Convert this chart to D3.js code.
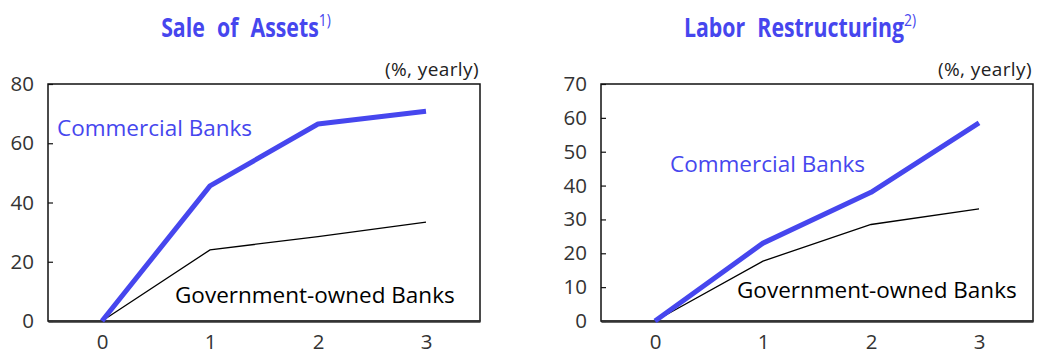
<!DOCTYPE html>
<html>
<head>
<meta charset="utf-8">
<script src="https://cdn.jsdelivr.net/npm/d3@7"></script>
<style>
  html, body { margin: 0; padding: 0; background: #fff; }
  svg { display: block; }
  text { font-family: "Open Sans", "Noto Sans", sans-serif; }
</style>
</head>
<body>
<svg id="chart" width="1037" height="354"></svg>
<script>
// Years after restructuring began
const years = [0, 1, 2, 3];

// Sale of assets (%, yearly)
const assetsCommercial = [0, 45.6, 66.5, 70.8];
const assetsGovernment = [0, 24.0, 28.5, 33.4];

// Labor restructuring (%, yearly)
const laborCommercial = [0, 23.0, 38.0, 58.5];
const laborGovernment = [0, 17.7, 28.5, 33.1];

const assetsTicks = [0, 20, 40, 60, 80];
const laborTicks = [0, 10, 20, 30, 40, 50, 60, 70];

const BLUE = "#4646ee";
const BODY_FONT = "\"Open Sans\", \"Noto Sans\", sans-serif";
const svg = d3.select("#chart");

function panel(opts) {
  const { left, top, width, height, title, note, yMax, ticks, commercial, government,
          comLabel, govLabel } = opts;
  const g = svg.append("g").attr("transform", `translate(${left},${top})`);

  const x = d3.scalePoint().domain(years).range([0, width]).padding(0.5);
  const y = d3.scaleLinear().domain([0, yMax]).range([height, 0]);

  // Title (condensed bold) with superscript note marker
  const tg = g.append("g")
    .attr("transform", `translate(${width / 2 + opts.titleDx},-47) scale(0.82,1)`);
  const t = tg.append("text")
    .attr("text-anchor", "middle")
    .attr("fill", BLUE)
    .attr("font-family", "\"Noto Sans CJK KR\", sans-serif")
    .attr("font-size", 26)
    .attr("font-weight", "bold")
    .attr("word-spacing", 8)
    .text(title);
  t.append("tspan")
    .attr("dy", -11)
    .attr("font-size", 17)
    .attr("font-weight", "normal")
    .text(note);

  // Unit note
  g.append("text")
    .attr("x", width - 1)
    .attr("y", -8)
    .attr("text-anchor", "end")
    .attr("font-size", 19)
    .attr("letter-spacing", 0.4)
    .attr("fill", "#222")
    .text("(%, yearly)");

  // Plot frame
  g.append("rect")
    .attr("x", 0).attr("y", 0)
    .attr("width", width).attr("height", height)
    .attr("fill", "none")
    .attr("stroke", "#111")
    .attr("stroke-width", 1.5);

  // Y axis: inward ticks
  const yAxis = d3.axisLeft(y).tickValues(ticks).tickSize(-5).tickPadding(14);
  const ya = g.append("g").call(yAxis);
  ya.select(".domain").remove();
  ya.selectAll(".tick line").attr("stroke", "#111").attr("stroke-width", 1.2);
  ya.selectAll(".tick text")
    .attr("font-size", 20.5)
    .attr("fill", "#333")
    .attr("font-family", BODY_FONT);

  // X axis labels, no tick marks
  const xAxis = d3.axisBottom(x).tickSize(0).tickPadding(13);
  const xa = g.append("g").attr("transform", `translate(0,${height})`).call(xAxis);
  xa.select(".domain").attr("stroke", "#333").attr("stroke-width", 2.5);
  xa.selectAll(".tick text")
    .attr("font-size", 20.5)
    .attr("fill", "#333")
    .attr("font-family", BODY_FONT);

  const line = d3.line().x((d, i) => x(years[i])).y(d => y(d));

  g.append("path")
    .datum(government)
    .attr("d", line)
    .attr("fill", "none")
    .attr("stroke", "#000")
    .attr("stroke-width", 1.3);

  g.append("path")
    .datum(commercial)
    .attr("d", line)
    .attr("fill", "none")
    .attr("stroke", BLUE)
    .attr("stroke-width", 5)
    .attr("stroke-linejoin", "round");

  g.append("text")
    .attr("x", comLabel[0]).attr("y", comLabel[1])
    .attr("font-size", 22.5)
    .attr("fill", BLUE)
    .text("Commercial Banks");

  g.append("text")
    .attr("x", govLabel[0]).attr("y", govLabel[1])
    .attr("font-size", 22.5)
    .attr("fill", "#000")
    .text("Government-owned Banks");
}

panel({
  left: 48, top: 84, width: 432, height: 237,
  title: "Sale of Assets", note: "1)", titleDx: -18,
  yMax: 80, ticks: assetsTicks,
  commercial: assetsCommercial, government: assetsGovernment,
  comLabel: [9, 52], govLabel: [127, 219]
});

panel({
  left: 601, top: 84, width: 432, height: 237,
  title: "Labor Restructuring", note: "2)", titleDx: -17,
  yMax: 70, ticks: laborTicks,
  commercial: laborCommercial, government: laborGovernment,
  comLabel: [69, 88], govLabel: [136, 214]
});
</script>
</body>
</html>
